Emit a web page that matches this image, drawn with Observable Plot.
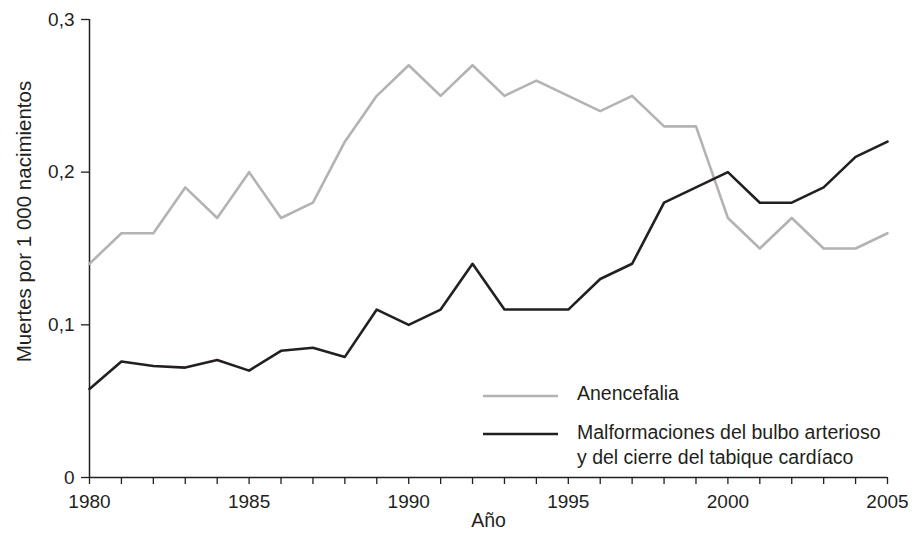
<!DOCTYPE html>
<html><head><meta charset="utf-8">
<script src="https://cdn.jsdelivr.net/npm/d3@7"></script>
<script src="https://cdn.jsdelivr.net/npm/@observablehq/plot@0.6"></script>
<style>
html,body{margin:0;padding:0;background:#fff;}
#chart{position:relative;width:924px;height:538px;font-family:"Liberation Sans",Arial,Helvetica,sans-serif;color:#231f20;}
#legend{position:absolute;left:0;top:0;pointer-events:none;}
</style></head><body><div id="chart"></div>
<script>
const years = [1980,1981,1982,1983,1984,1985,1986,1987,1988,1989,1990,1991,1992,1993,1994,1995,1996,1997,1998,1999,2000,2001,2002,2003,2004,2005];
const anencefalia = [0.14,0.16,0.16,0.19,0.17,0.20,0.17,0.18,0.22,0.25,0.27,0.25,0.27,0.25,0.26,0.25,0.24,0.25,0.23,0.23,0.17,0.15,0.17,0.15,0.15,0.16];
const malformaciones = [0.058,0.076,0.073,0.072,0.077,0.070,0.083,0.085,0.079,0.11,0.10,0.11,0.14,0.11,0.11,0.11,0.13,0.14,0.18,0.19,0.20,0.18,0.18,0.19,0.21,0.22];
const seriesNames = ["Anencefalia", "Malformaciones del bulbo arterioso", "y del cierre del tabique cardíaco"];
const seriesColors = ["#b3b3b3", "#231f20"];
const yTicks = [0, 0.1, 0.2, 0.3];
const xLabelTicks = [1980, 1985, 1990, 1995, 2000, 2005];
const yLabel = "Muertes por 1 000 nacimientos";
const xLabel = "Año";

const rowsA = years.map((y, i) => ({year: y, value: anencefalia[i]}));
const rowsM = years.map((y, i) => ({year: y, value: malformaciones[i]}));

const W = 924, H = 538;
const mL = 89, mR = 37, mT = 19, mB = 61;
const fontSize = 19;
const legendFont = 19.5;
const yLabelFont = 20.5;

const plot = Plot.plot({
  width: W, height: H,
  marginLeft: mL, marginRight: mR, marginTop: mT, marginBottom: mB,
  style: {fontFamily: '"Liberation Sans", Arial, Helvetica, sans-serif', fontSize: fontSize + "px", color: "#231f20", background: "#fff"},
  x: {domain: [1980, 2005]},
  y: {domain: [0, 0.3]},
  marks: [
    Plot.axisY({ticks: yTicks, tickSize: 8, tickPadding: 7, tickFormat: d => String(d).replace(".", ","), label: null, stroke: "#231f20", strokeWidth: 1.3, fill: "#231f20"}),
    Plot.axisX({ticks: years, tickSize: 7, tickPadding: 10, tickFormat: d => xLabelTicks.includes(d) ? String(d) : "", label: null, stroke: "#231f20", strokeWidth: 1.3, fill: "#231f20"}),
    Plot.ruleX([1980], {stroke: "#231f20", strokeWidth: 1.5}),
    Plot.ruleY([0], {stroke: "#231f20", strokeWidth: 1.5}),
    Plot.line(rowsA, {x: "year", y: "value", stroke: seriesColors[0], strokeWidth: 2.6}),
    Plot.line(rowsM, {x: "year", y: "value", stroke: seriesColors[1], strokeWidth: 2.6}),
    Plot.text([yLabel], {frameAnchor: "left", textAnchor: "middle", lineAnchor: "middle", dx: -65, dy: -27, rotate: -90, fontSize: yLabelFont, fill: "#231f20"}),
    Plot.text([xLabel], {frameAnchor: "bottom", textAnchor: "middle", dy: 49, fontSize: legendFont, fill: "#231f20"})
  ]
});
document.getElementById("chart").appendChild(plot);

// Legend overlay
const svg = d3.select("#chart").append("svg").attr("id", "legend").attr("width", W).attr("height", H)
  .style("font-family", '"Liberation Sans", Arial, Helvetica, sans-serif').style("font-size", legendFont + "px");
const entries = [
  {color: seriesColors[0], lineY: 396, lines: [seriesNames[0]], baselines: [400]},
  {color: seriesColors[1], lineY: 434, lines: [seriesNames[1], seriesNames[2]], baselines: [439, 464]}
];
for (const e of entries) {
  svg.append("line").attr("x1", 483).attr("x2", 558).attr("y1", e.lineY).attr("y2", e.lineY)
    .attr("stroke", e.color).attr("stroke-width", 2.6);
  e.lines.forEach((t, i) => {
    svg.append("text").attr("x", 577).attr("y", e.baselines[i]).attr("fill", "#231f20").text(t);
  });
}
</script></body></html>
